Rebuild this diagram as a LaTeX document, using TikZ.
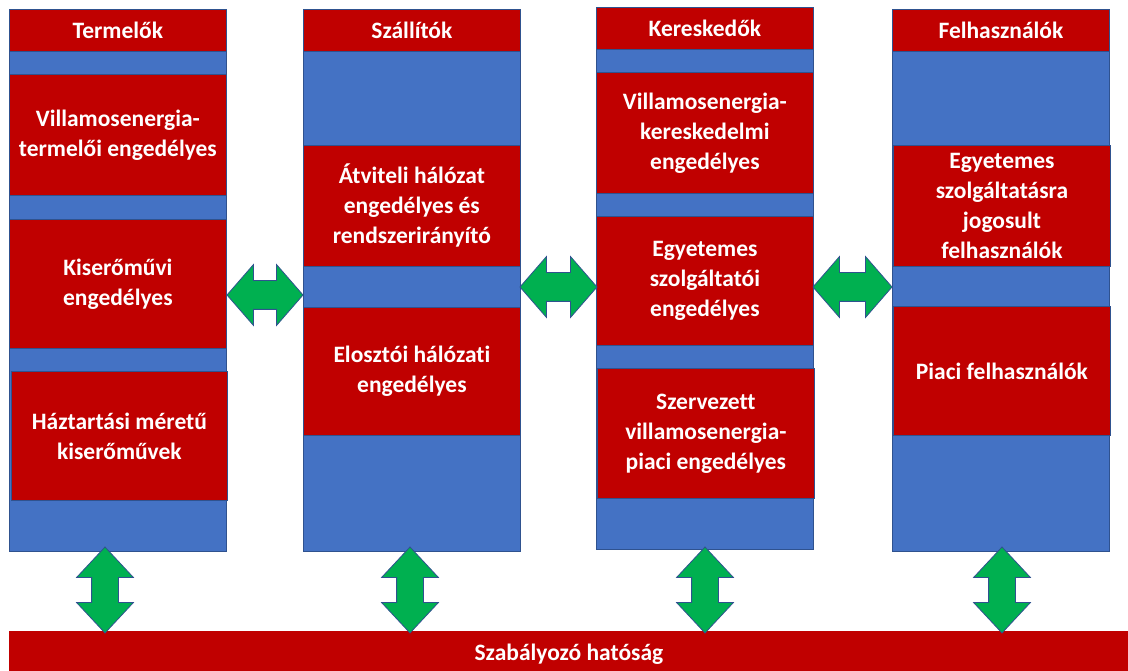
\documentclass[tikz,border=0pt]{standalone}
\usepackage{fontspec}
\setmainfont{Carlito}[Ligatures=NoCommon]
\usetikzlibrary{shapes.arrows, positioning}
\definecolor{BoxRed}{HTML}{C00000}
\definecolor{ColBlue}{HTML}{4472C4}
\definecolor{EdgeBlue}{HTML}{2F528F}
\definecolor{LinkGreen}{HTML}{00B050}
\tikzset{
  % Column and box styles
  colbox/.style={rectangle, draw=EdgeBlue, fill=ColBlue, line width=0.8pt, inner sep=0pt, anchor=north west, minimum width=217pt},
  redbox/.style={rectangle, draw=EdgeBlue, fill=BoxRed, line width=0.8pt, inner sep=0pt, anchor=north west, minimum width=217pt, text=white, align=center, font=\fontsize{23.5}{30}\selectfont\bfseries},
  % Link styles
  hlink/.style={double arrow, draw=EdgeBlue, fill=LinkGreen, line width=0.8pt, inner xsep=0pt, inner ysep=14pt, double arrow head extend=16pt, double arrow tip angle=98},
  vlink/.style={hlink, rotate=90, inner ysep=13pt, double arrow head extend=15pt, double arrow tip angle=86}
}
\begin{document}
\begin{tikzpicture}[x=1pt, y=-1pt]
  \useasboundingbox (0,0) rectangle (1128,671);

  % Termelok
  \node[colbox, minimum height=542pt] (col1) at (9,9) {};
  \node[redbox, minimum height=42pt] (t0) at (9,9) {Termelők};
  \node[redbox, minimum height=121pt] (t1) at (9,74) {Villamosenergia-\\termelői engedélyes};
  \node[redbox, minimum height=129pt] (t2) at (9,219) {Kiserőművi\\engedélyes};
  \node[redbox, minimum height=129pt, minimum width=216pt] (t3) at (11,371) {Háztartási méretű\\kiserőművek};

  % Szallitok
  \node[colbox, minimum height=542pt] (col2) at (303,9) {};
  \node[redbox, minimum height=42pt] (s0) at (303,9) {Szállítók};
  \node[redbox, minimum height=121pt] (s1) at (303,145) {Átviteli hálózat\\engedélyes és\\rendszerirányító};
  \node[redbox, minimum height=128pt] (s2) at (303,307) {Elosztói hálózati\\engedélyes};

  % Kereskedok
  \node[colbox, minimum height=542pt] (col3) at (596,7) {};
  \node[redbox, minimum height=42pt] (k0) at (596,7) {Kereskedők};
  \node[redbox, minimum height=121pt] (k1) at (596,72) {Villamosenergia-\\kereskedelmi\\engedélyes};
  \node[redbox, minimum height=129pt] (k2) at (596,216) {Egyetemes\\szolgáltatói\\engedélyes};
  \node[redbox, minimum height=130pt] (k3) at (597,368) {Szervezett\\villamosenergia-\\piaci engedélyes};

  % Felhasznalok
  \node[colbox, minimum height=542pt] (col4) at (892,9) {};
  \node[redbox, minimum height=42pt] (f0) at (892,9) {Felhasználók};
  \node[redbox, minimum height=121pt] (f1) at (893,145) {Egyetemes\\szolgáltatásra\\jogosult\\felhasználók};
  \node[redbox, minimum height=129pt] (f2) at (893,306) {Piaci felhasználók};

  % Regulator
  \node[redbox, minimum height=40pt, minimum width=1119pt, draw=none, text height=25pt, text depth=6pt] (bar) at (9,631) {Szabályozó hatóság};

  % Links between columns
  \node[hlink, minimum height=76pt] (h12) at (265,295) {};
  \node[hlink, minimum height=77pt] (h23) at (558.5,287) {};
  \node[hlink, minimum height=79pt] (h34) at (852.5,287) {};

  % Links to regulator
  \node[vlink, minimum height=86pt] (v1) at (105,590) {};
  \node[vlink, minimum height=86pt] (v2) at (410,590) {};
  \node[vlink, minimum height=86pt] (v3) at (705,590) {};
  \node[vlink, minimum height=86pt] (v4) at (1002,590) {};
\end{tikzpicture}
\end{document}
